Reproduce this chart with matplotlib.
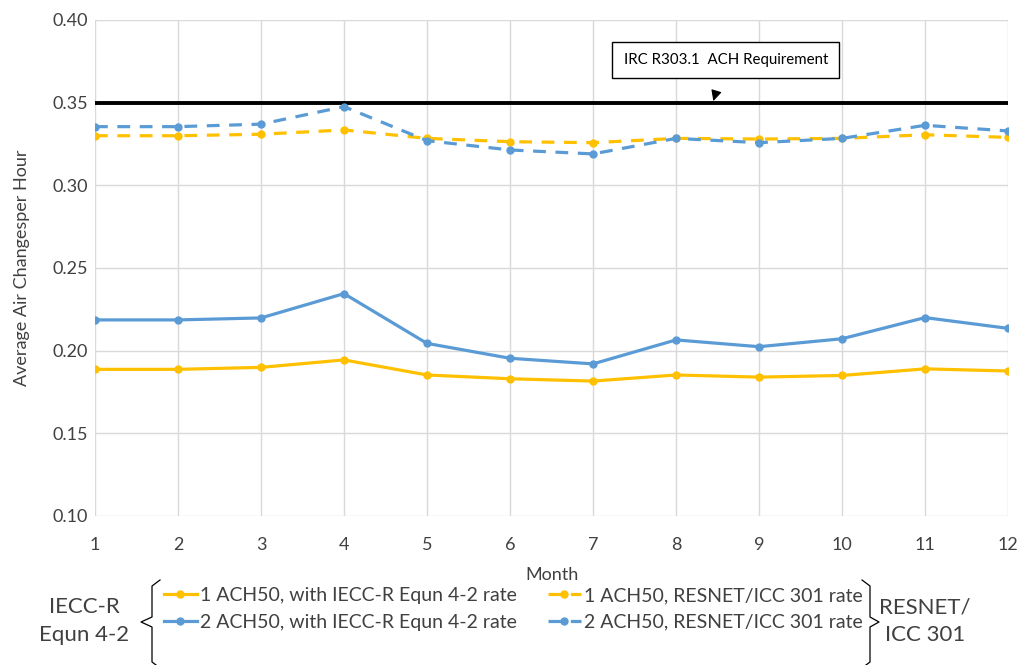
import matplotlib.pyplot as plt
from matplotlib.lines import Line2D

plt.rcParams['font.family'] = ['Lato', 'DejaVu Sans']

months = list(range(1, 13))

# 1 ACH50 / 2 ACH50, IECC-R Equn 4-2 rate (solid) and RESNET/ICC 301 rate (dashed)
ach1_iecc = [0.1887, 0.1887, 0.1899, 0.1944, 0.1853, 0.1830, 0.1816, 0.1853, 0.1840, 0.1850, 0.1890, 0.1877]
ach2_iecc = [0.2186, 0.2186, 0.2198, 0.2345, 0.2044, 0.1954, 0.1920, 0.2065, 0.2024, 0.2072, 0.2200, 0.2135]
ach1_resnet = [0.3300, 0.3300, 0.3309, 0.3335, 0.3284, 0.3264, 0.3258, 0.3284, 0.3280, 0.3284, 0.3306, 0.3290]
ach2_resnet = [0.3355, 0.3355, 0.3370, 0.3476, 0.3270, 0.3214, 0.3190, 0.3284, 0.3258, 0.3284, 0.3363, 0.3329]
requirement = 0.35

yellow = '#FFC000'
blue = '#5B9BD5'
grey_text = '#404040'

fig = plt.figure(figsize=(10.21, 6.65), dpi=100)
W, H = 1021, 665
ax = fig.add_axes([95 / W, 1 - 516 / H, (1008 - 95) / W, (516 - 20) / H])

h1, = ax.plot(months, ach1_iecc, color=yellow, lw=2.3, marker='o', ms=5,
              label='1 ACH50, with IECC-R Equn 4-2 rate')
h2, = ax.plot(months, ach2_iecc, color=blue, lw=2.3, marker='o', ms=5,
              label='2 ACH50, with IECC-R Equn 4-2 rate')
h3, = ax.plot(months, ach1_resnet, color=yellow, lw=2.3, ls=(0, (4, 3)), marker='o', ms=5,
              label='1 ACH50, RESNET/ICC 301 rate')
h4, = ax.plot(months, ach2_resnet, color=blue, lw=2.3, ls=(0, (4, 3)), marker='o', ms=5,
              label='2 ACH50, RESNET/ICC 301 rate')
ax.plot([1, 12], [requirement, requirement], color='black', lw=2.8, zorder=1)

ax.set_xlim(1, 12)
ax.set_ylim(0.10, 0.40)
ax.set_xticks(months)
ax.set_yticks([0.10, 0.15, 0.20, 0.25, 0.30, 0.35, 0.40])
ax.set_yticklabels(['%.2f' % v for v in ax.get_yticks()])
ax.grid(True, color='#D9D9D9', lw=1)
ax.set_axisbelow(True)
for s in ax.spines.values():
    s.set_visible(False)
ax.tick_params(length=0, labelsize=13, colors=grey_text)
ax.tick_params(axis='x', pad=15)
ax.tick_params(axis='y', pad=5)
ax.set_xlabel('Month', fontsize=13, color=grey_text, labelpad=10)
ax.set_ylabel('Average Air Changesper Hour', fontsize=13, color=grey_text, labelpad=16)

ax.annotate('IRC R303.1  ACH Requirement', xy=(8.45, requirement + 0.001),
            xytext=(8.6, 0.3758), ha='center', va='center', fontsize=10.8,
            bbox=dict(boxstyle='square,pad=0.75', fc='white', ec='black', lw=1),
            arrowprops=dict(arrowstyle='-|>,head_length=0.6,head_width=0.3', color='black',
                            lw=0.8, shrinkA=13, shrinkB=0))

fig.legend(handles=[h1, h2, h3, h4], ncol=2, frameon=False, fontsize=14,
           loc='center', bbox_to_anchor=(513 / W, 1 - 609 / H),
           handlelength=1.7, handletextpad=0.15, columnspacing=1.6, labelspacing=0.5,
           labelcolor=grey_text)

# braces
def brace(x0, xtip, xend, y0, y1, ym):
    to = lambda x, y: (x / W, 1 - y / H)
    pts = [to(xend, y0), to(x0, y0 + 6), to(x0, ym - 5), to(xtip, ym),
           to(x0, ym + 5), to(x0, y1 - 6), to(xend, y1)]
    fig.add_artist(Line2D([p[0] for p in pts], [p[1] for p in pts], color='black', lw=0.9))

brace(152, 141, 160, 580, 668, 622)
brace(870, 879, 862, 580, 668, 622)

fig.text(84 / W, 1 - 621 / H, 'IECC-R\nEqun 4-2', ha='center', va='center',
         fontsize=16, color=grey_text, linespacing=1.5)
fig.text(925 / W, 1 - 621 / H, 'RESNET/\nICC 301', ha='center', va='center',
         fontsize=16, color=grey_text, linespacing=1.5)

fig.savefig('out.png', dpi=100)
